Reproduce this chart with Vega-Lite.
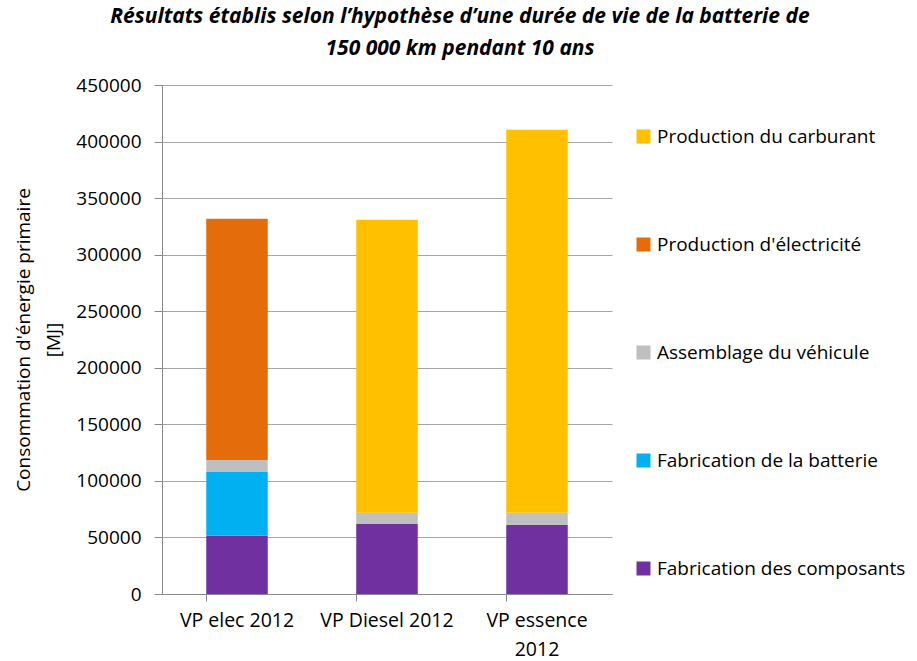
{
  "$schema": "https://vega.github.io/schema/vega-lite/v6.json",
  "width": 450,
  "height": 509,
  "padding": {"left": 14, "top": 6, "right": 5, "bottom": 5},
  "background": "white",
  "title": {
    "text": ["Résultats établis selon l’hypothèse d’une durée de vie de la batterie de", "150 000 km pendant 10 ans"],
    "font": "Open Sans",
    "fontSize": 21,
    "fontWeight": "bold",
    "fontStyle": "italic",
    "color": "#000000",
    "lineHeight": 32,
    "anchor": "middle",
    "dx": 73,
    "offset": 17
  },
  "data": {
    "values": [
      {"vehicule": "VP elec 2012", "poste": "Fabrication des composants", "valeur": 51400, "ordre": 1},
      {"vehicule": "VP elec 2012", "poste": "Fabrication de la batterie", "valeur": 57000, "ordre": 2},
      {"vehicule": "VP elec 2012", "poste": "Assemblage du véhicule", "valeur": 10100, "ordre": 3},
      {"vehicule": "VP elec 2012", "poste": "Production d'électricité", "valeur": 213300, "ordre": 4},
      {"vehicule": "VP Diesel 2012", "poste": "Fabrication des composants", "valeur": 61800, "ordre": 1},
      {"vehicule": "VP Diesel 2012", "poste": "Assemblage du véhicule", "valeur": 10000, "ordre": 3},
      {"vehicule": "VP Diesel 2012", "poste": "Production du carburant", "valeur": 259100, "ordre": 5},
      {"vehicule": "VP essence 2012", "poste": "Fabrication des composants", "valeur": 61200, "ordre": 1},
      {"vehicule": "VP essence 2012", "poste": "Assemblage du véhicule", "valeur": 10600, "ordre": 3},
      {"vehicule": "VP essence 2012", "poste": "Production du carburant", "valeur": 338700, "ordre": 5}
    ]
  },
  "mark": {"type": "bar"},
  "encoding": {
    "x": {
      "field": "vehicule",
      "type": "nominal",
      "sort": ["VP elec 2012", "VP Diesel 2012", "VP essence 2012"],
      "scale": {"paddingInner": 0.59, "paddingOuter": 0.295},
      "axis": {
        "title": null,
        "labelAngle": 0,
        "labelFont": "Open Sans",
        "labelFontSize": 19.5,
        "labelColor": "#000000",
        "labelPadding": 10,
        "labelLineHeight": 29,
        "labelExpr": "datum.label == 'VP essence 2012' ? ['VP essence', '2012'] : datum.label",
        "bandPosition": 0,
        "tickColor": "#888888",
        "tickSize": 7,
        "domainColor": "#888888",
        "grid": false
      }
    },
    "y": {
      "field": "valeur",
      "type": "quantitative",
      "aggregate": "sum",
      "stack": "zero",
      "scale": {"domain": [0, 450000], "nice": false},
      "axis": {
        "title": ["Consommation d'énergie primaire", "[MJ]"],
        "titleFont": "Open Sans",
        "titleFontSize": 19,
        "titleFontWeight": "normal",
        "titleColor": "#000000",
        "titleLineHeight": 30,
        "titlePadding": 12,
        "values": [0, 50000, 100000, 150000, 200000, 250000, 300000, 350000, 400000, 450000],
        "format": "d",
        "labelFont": "Open Sans",
        "labelFontSize": 19,
        "labelColor": "#000000",
        "labelPadding": 13,
        "tickColor": "#888888",
        "tickSize": 8,
        "domainColor": "#888888",
        "gridColor": "#A6A6A6",
        "gridWidth": 1
      }
    },
    "color": {
      "field": "poste",
      "type": "nominal",
      "scale": {
        "domain": ["Production du carburant", "Production d'électricité", "Assemblage du véhicule", "Fabrication de la batterie", "Fabrication des composants"],
        "range": ["#FFC000", "#E46C0A", "#BFBFBF", "#00B0F0", "#7030A0"]
      },
      "legend": {
        "title": null,
        "orient": "none",
        "legendX": 472,
        "legendY": 42,
        "symbolType": "square",
        "symbolSize": 196,
        "symbolStrokeWidth": 0,
        "labelFont": "Open Sans",
        "labelFontSize": 19,
        "labelColor": "#000000",
        "labelOffset": 4,
        "rowPadding": 88,
        "labelLimit": 400
      }
    },
    "order": {"field": "ordre", "type": "quantitative"}
  },
  "config": {
    "view": {"stroke": null},
    "font": "Open Sans"
  }
}
